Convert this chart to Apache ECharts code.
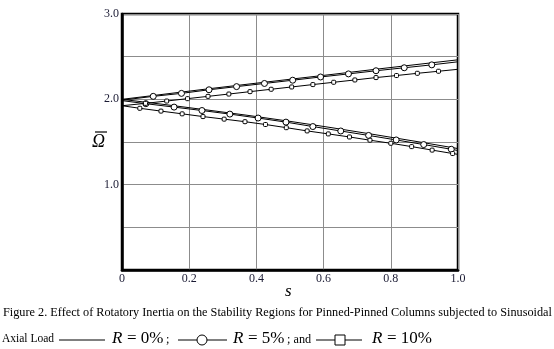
<!DOCTYPE html>
<html>
<head>
<meta charset="utf-8">
<script src="https://cdn.jsdelivr.net/npm/echarts@6/dist/echarts.min.js"></script>
<style>html,body{margin:0;padding:0;background:#fff;}#c{width:554px;height:349px;}</style>
</head>
<body>
<div id="c"></div>
<script>
// ---- data ----
const xTicks = [0, 0.2, 0.4, 0.6, 0.8, 1.0];
const yTickLabels = [1.0, 2.0, 3.0];

// R = 0% (plain line)
const r0UpperS = [0, 0.125, 0.25, 0.375, 0.5, 0.625, 0.75, 0.875, 1.0];
const r0UpperV = [2.0, 2.06, 2.12, 2.178, 2.235, 2.292, 2.35, 2.407, 2.463];
const r0LowerS = [0, 0.125, 0.25, 0.375, 0.5, 0.625, 0.75, 0.875, 1.0];
const r0LowerV = [2.0, 1.94, 1.877, 1.812, 1.742, 1.667, 1.588, 1.507, 1.423];

// R = 5% (circles)
const r5UpperS = [0, 0.093, 0.177, 0.259, 0.341, 0.424, 0.508, 0.591, 0.674, 0.756, 0.84, 0.922, 1.0];
const r5UpperV = [1.99, 2.035, 2.07, 2.112, 2.149, 2.186, 2.224, 2.262, 2.298, 2.335, 2.37, 2.404, 2.44];
const r5LowerS = [0, 0.071, 0.155, 0.238, 0.321, 0.405, 0.488, 0.568, 0.651, 0.734, 0.816, 0.898, 0.98, 1.0];
const r5LowerV = [1.985, 1.949, 1.909, 1.869, 1.827, 1.781, 1.733, 1.681, 1.629, 1.577, 1.524, 1.47, 1.415, 1.40];

// R = 10% (squares)
const r10UpperS = [0, 0.07, 0.133, 0.195, 0.256, 0.318, 0.381, 0.444, 0.505, 0.568, 0.63, 0.693, 0.756, 0.817, 0.879, 0.942, 1.0];
const r10UpperV = [1.925, 1.953, 1.98, 2.008, 2.035, 2.062, 2.09, 2.118, 2.145, 2.173, 2.2, 2.227, 2.255, 2.279, 2.305, 2.329, 2.352];
const r10LowerS = [0, 0.053, 0.116, 0.179, 0.241, 0.304, 0.366, 0.427, 0.489, 0.551, 0.614, 0.677, 0.738, 0.8, 0.862, 0.923, 0.984, 1.0];
const r10LowerV = [1.925, 1.895, 1.862, 1.83, 1.798, 1.768, 1.738, 1.705, 1.668, 1.63, 1.595, 1.559, 1.521, 1.485, 1.446, 1.405, 1.365, 1.355];

const captionLine1 = 'Figure 2. Effect of Rotatory Inertia on the Stability Regions for Pinned-Pinned Columns subjected to Sinusoidal';

// ---- build ----
function pairs(s, v, markEnds) {
  return s.map((x, i) => {
    const p = [x, v[i]];
    if (markEnds && (x === 0 || x === 1.0)) return { value: p, symbol: 'none' };
    return p;
  });
}
const serif = '"Liberation Serif", "Times New Roman", "DejaVu Serif", serif';
const lineStyle = { color: '#000', width: 1 };

function plain(name, s, v) {
  return { name, type: 'line', data: pairs(s, v, false), showSymbol: false, symbol: 'none',
    lineStyle, silent: true, animation: false, z: 3 };
}
function marked(name, s, v, symbol, size) {
  return { name, type: 'line', data: pairs(s, v, true), symbol, symbolSize: size, showSymbol: true,
    itemStyle: { color: '#fff', borderColor: '#000', borderWidth: 1 },
    lineStyle, silent: true, animation: false, z: 4 };
}
function txt(x, yMid, text, font) {
  return { type: 'text', x: x, y: yMid, style: { text, font, fill: '#000', textVerticalAlign: 'middle', verticalAlign: 'middle' } };
}
const big = 'italic 17px ' + serif, bigR = '17px ' + serif, small = '12.25px ' + serif;

const chart = echarts.init(document.getElementById('c'), null, { renderer: 'canvas' });
const option = {
  backgroundColor: '#fff',
  animation: false,
  grid: { left: 122, right: 96, top: 14, bottom: 79, show: true, borderColor: '#000', borderWidth: 2.5, backgroundColor: 'transparent' },
  xAxis: {
    type: 'value', min: 0, max: 1, interval: 0.2,
    axisLine: { show: true, lineStyle: { color: '#000', width: 2.5 } },
    axisTick: { show: false },
    splitLine: { show: true, lineStyle: { color: '#8c8c8c', width: 1 } },
    axisLabel: { color: '#1a1a33', fontFamily: serif, fontSize: 12, margin: 3,
      formatter: v => (xTicks.some(t => Math.abs(t - v) < 1e-9) ? (v === 0 ? '0' : v.toFixed(1)) : '') }
  },
  yAxis: {
    type: 'value', min: 0, max: 3, interval: 0.5,
    axisLine: { show: true, lineStyle: { color: '#000', width: 2.5 } },
    axisTick: { show: false },
    splitLine: { show: true, lineStyle: { color: '#8c8c8c', width: 1 } },
    axisLabel: { color: '#1a1a33', fontFamily: serif, fontSize: 12, margin: 3,
      formatter: v => (yTickLabels.some(t => Math.abs(t - v) < 1e-9) ? v.toFixed(1) : '') }
  },
  series: [
    plain('R0 upper', r0UpperS, r0UpperV),
    plain('R0 lower', r0LowerS, r0LowerV),
    marked('R5 upper', r5UpperS, r5UpperV, 'circle', 6),
    marked('R5 lower', r5LowerS, r5LowerV, 'circle', 6),
    marked('R10 upper', r10UpperS, r10UpperV, 'roundRect', 4),
    marked('R10 lower', r10LowerS, r10LowerV, 'roundRect', 4)
  ],
  graphic: [
    // y-axis name: Omega with overbar
    { type: 'text', left: 92, top: 133, style: { text: 'Ω', font: 'italic 18px ' + serif, fill: '#000' } },
    { type: 'line', shape: { x1: 95, y1: 132, x2: 107, y2: 132 }, style: { stroke: '#000', lineWidth: 1.2 } },
    // x-axis name
    { type: 'text', left: 285, top: 283, style: { text: 's', font: 'italic 17px ' + serif, fill: '#000' } },
    // caption line 1
    txt(3, 313, captionLine1, small),
    // caption line 2
    txt(2, 339, 'Axial Load', '11.5px ' + serif),
    { type: 'line', shape: { x1: 59, y1: 340, x2: 105, y2: 340 }, style: { stroke: '#000', lineWidth: 1 } },
    txt(112, 339, 'R', big), txt(127, 339, '= 0%', bigR), txt(166, 340, ';', small),
    { type: 'line', shape: { x1: 178, y1: 340, x2: 227, y2: 340 }, style: { stroke: '#000', lineWidth: 1 } },
    { type: 'circle', shape: { cx: 202, cy: 340, r: 5 }, style: { fill: '#fff', stroke: '#000', lineWidth: 1 } },
    txt(233, 339, 'R', big), txt(248, 339, '= 5%', bigR), txt(287, 340, '; and', small),
    { type: 'line', shape: { x1: 316, y1: 340, x2: 362, y2: 340 }, style: { stroke: '#000', lineWidth: 1 } },
    { type: 'rect', shape: { x: 335, y: 335, width: 10, height: 10 }, style: { fill: '#fff', stroke: '#000', lineWidth: 1 } },
    txt(372, 339, 'R', big), txt(387, 339, '= 10%', bigR)
  ]
};
chart.setOption(option);
</script>
</body>
</html>
